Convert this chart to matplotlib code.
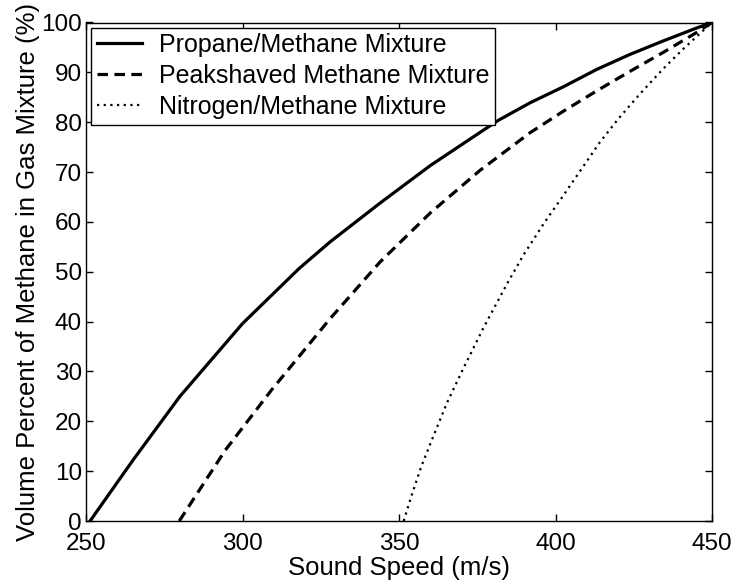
import matplotlib
matplotlib.use('Agg')
import matplotlib.pyplot as plt

# values
propane_speed = [251.3, 265, 280, 300, 318, 328, 344, 360, 376, 381.8, 391.9, 402.5, 413.2, 423.8, 434.4, 445.1, 450]
propane_pct = [0, 12.2, 25, 39.6, 50.6, 56, 63.8, 71.3, 78, 80.4, 83.9, 87.1, 90.6, 93.6, 96.3, 98.9, 100]

peak_speed = [279.8, 294.5, 309.3, 328, 344, 360, 376, 391.9, 402.5, 413.2, 423.8, 434.4, 445.1, 450]
peak_pct = [0, 14.2, 26.3, 40.6, 52.0, 61.8, 70.4, 77.9, 82.2, 86.3, 90.2, 94.0, 98.0, 100]

nitro_speed = [351.5, 353.9, 357.1, 360.9, 365.4, 370.7, 377.1, 384.8, 389.9, 396.6, 402.5,
               408.4, 414.2, 420.1, 427, 434.4, 440.8, 447.2, 450]
nitro_pct = [0, 4.9, 10.9, 16.9, 23.8, 30.8, 38.9, 47.9, 53.5, 60.0, 65.3,
             70.7, 76.0, 80.7, 85.7, 90.7, 94.7, 98.4, 100]

labels = ['Propane/Methane Mixture', 'Peakshaved Methane Mixture', 'Nitrogen/Methane Mixture']
x_ticks = [250, 300, 350, 400, 450]
y_ticks = list(range(0, 101, 10))

plt.rcParams['font.family'] = ['Liberation Sans', 'DejaVu Sans']

fig = plt.figure(figsize=(7.4, 5.84), dpi=100)
ax = fig.add_axes([86 / 740, 1 - 521 / 584, (712 - 86) / 740, (521 - 22.5) / 584])

ax.plot(propane_speed, propane_pct, color='black', lw=2.3, linestyle='-', label=labels[0])
ax.plot(peak_speed, peak_pct, color='black', lw=2.3, linestyle=(0, (3.3, 2.0)), label=labels[1])
ax.plot(nitro_speed, nitro_pct, color='black', lw=1.6, linestyle=(0, (1, 2.0)), label=labels[2])

ax.set_xlim(250, 450)
ax.set_ylim(0, 100)
ax.set_xticks(x_ticks)
ax.set_yticks(y_ticks)
ax.tick_params(direction='in', top=True, right=True, length=5, width=1,
               labelsize=17.5, colors='black')
ax.tick_params(axis='x', pad=9)
ax.tick_params(axis='y', pad=3)
for sp in ax.spines.values():
    sp.set_linewidth(1.0)
    sp.set_color('black')

ax.set_xlabel('Sound Speed (m/s)', fontsize=18.5, labelpad=0)
ax.set_ylabel('Volume Percent of Methane in Gas Mixture (%)', fontsize=18.5, labelpad=1)

leg = ax.legend(loc='upper left', fontsize=18, frameon=True, fancybox=False,
                framealpha=1, edgecolor='black', borderaxespad=0.2,
                handlelength=1.8, handletextpad=0.7, labelspacing=0.28,
                borderpad=0.22)
leg.get_frame().set_linewidth(1.0)

fig.savefig('out.png', dpi=100)
